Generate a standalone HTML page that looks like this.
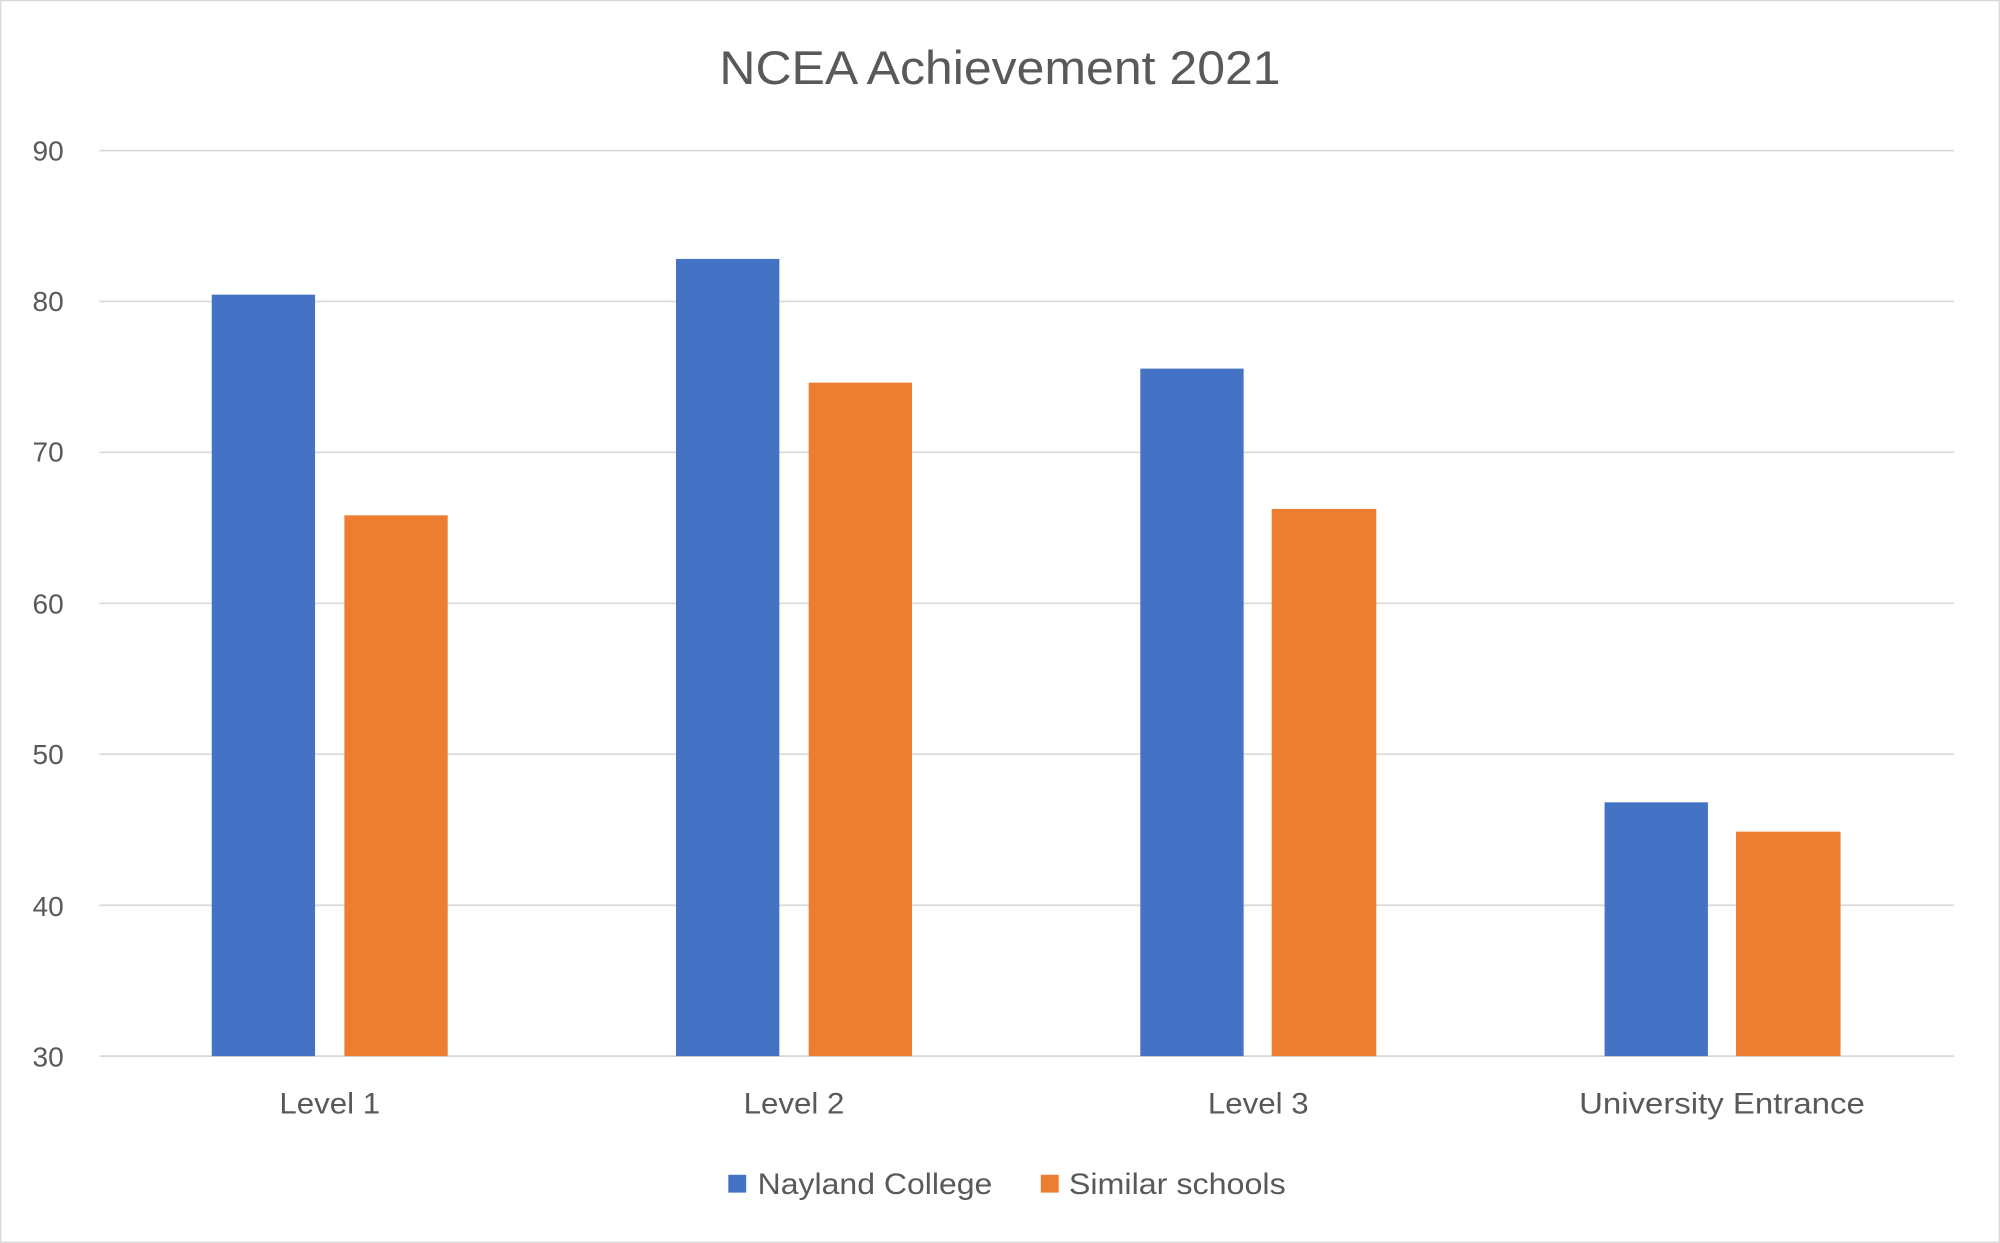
<!DOCTYPE html>
<html><head><meta charset="utf-8"><style>
html,body{margin:0;padding:0;background:#fff;}
svg{display:block;}
text{font-family:"Liberation Sans",sans-serif;fill:#595959;}
</style></head><body>
<svg width="2000" height="1243" viewBox="0 0 1568 974.5" xmlns="http://www.w3.org/2000/svg">
<rect x="0.5" y="0.5" width="1567" height="973.5" fill="#fff" stroke="#d9d9d9" stroke-width="1"/>
<text x="784" y="66" font-size="37" text-anchor="middle" textLength="440" lengthAdjust="spacingAndGlyphs">NCEA Achievement 2021</text>
<g stroke="#d9d9d9" stroke-width="1.3">
<line x1="78" x2="1532" y1="118" y2="118"/>
<line x1="78" x2="1532" y1="236.3" y2="236.3"/>
<line x1="78" x2="1532" y1="354.6" y2="354.6"/>
<line x1="78" x2="1532" y1="473" y2="473"/>
<line x1="78" x2="1532" y1="591.3" y2="591.3"/>
<line x1="78" x2="1532" y1="709.7" y2="709.7"/>
<line x1="78" x2="1532" y1="828" y2="828"/>
</g>
<g font-size="22" text-anchor="end">
<text x="50" y="126">90</text>
<text x="50" y="244">80</text>
<text x="50" y="362">70</text>
<text x="50" y="481">60</text>
<text x="50" y="599">50</text>
<text x="50" y="718">40</text>
<text x="50" y="836">30</text>
</g>
<g fill="#4472c4">
<rect x="166" y="231" width="81" height="597"/>
<rect x="530" y="203" width="81" height="625"/>
<rect x="894" y="289" width="81" height="539"/>
<rect x="1258" y="629" width="81" height="199"/>
</g>
<g fill="#ed7d31">
<rect x="270" y="404" width="81" height="424"/>
<rect x="634" y="300" width="81" height="528"/>
<rect x="997" y="399" width="82" height="429"/>
<rect x="1361" y="652" width="82" height="176"/>
</g>
<g font-size="23">
<text x="219" y="873" textLength="79" lengthAdjust="spacingAndGlyphs">Level 1</text>
<text x="583" y="873" textLength="79" lengthAdjust="spacingAndGlyphs">Level 2</text>
<text x="947" y="873" textLength="79" lengthAdjust="spacingAndGlyphs">Level 3</text>
<text x="1238" y="873" textLength="224" lengthAdjust="spacingAndGlyphs">University Entrance</text>
</g>
<rect x="571" y="921" width="14" height="14" fill="#4472c4"/>
<text x="594" y="936" font-size="23" textLength="184" lengthAdjust="spacingAndGlyphs">Nayland College</text>
<rect x="816" y="921" width="14" height="14" fill="#ed7d31"/>
<text x="838" y="936" font-size="23" textLength="170" lengthAdjust="spacingAndGlyphs">Similar schools</text>
</svg>
</body></html>
